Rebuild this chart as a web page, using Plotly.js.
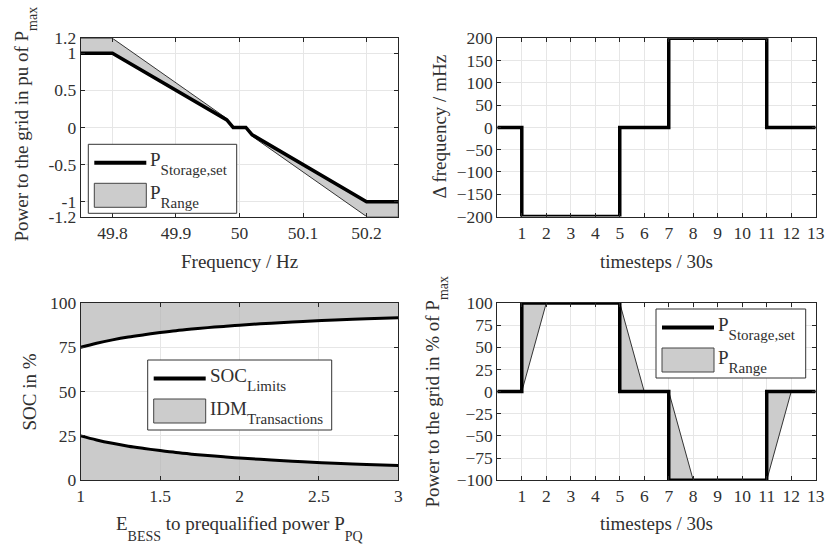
<!DOCTYPE html>
<html>
<head>
<meta charset="utf-8">
<script src="https://cdn.plot.ly/plotly-3.0.1.min.js"></script>
<style>
  html, body { margin: 0; padding: 0; background: #fff; }
  #chart { width: 825px; height: 548px; }
</style>
</head>
<body>
<div id="chart"></div>
<script>
// ---- Droop characteristic: power set point vs. grid frequency ----
const freqHz        = [49.75, 49.8, 49.98, 49.99, 50.01, 50.02, 50.2, 50.25];
const droopSet      = [1, 1, 0.1, 0, 0, -0.1, -1, -1];
const droopRangeEdge = [1.2, 1.2, 0.12, 0, 0, -0.12, -1.2, -1.2];
const freqTicks     = [49.8, 49.9, 50, 50.1, 50.2];
const freqTickText  = ['49.8', '49.9', '50', '50.1', '50.2'];
const puTicks       = [-1.2, -1, -0.5, 0, 0.5, 1, 1.2];
const puTickText    = ['-1.2', '-1', '-0.5', '0', '0.5', '1', '1.2'];

// ---- Frequency deviation test profile ----
const stepTime  = [0, 1, 1, 5, 5, 7, 7, 11, 11, 13];
const deltaFreq = [0, 0, -200, -200, 0, 0, 200, 200, 0, 0];
const timeTicks = [1, 2, 3, 4, 5, 6, 7, 8, 9, 10, 11, 12, 13];
const mHzTicks  = [-200, -150, -100, -50, 0, 50, 100, 150, 200];

// ---- SOC operating limits vs. energy / prequalified power ----
const eRatio   = [1, 1.1, 1.2, 1.3, 1.4, 1.5, 1.6, 1.7, 1.8, 1.9, 2, 2.2, 2.4, 2.6, 2.8, 3];
const socUpper = [75, 77.3, 79.2, 80.8, 82.1, 83.3, 84.4, 85.3, 86.1, 86.8, 87.5, 88.6, 89.6, 90.4, 91.1, 91.7];
const socLower = [25, 22.7, 20.8, 19.2, 17.9, 16.7, 15.6, 14.7, 13.9, 13.2, 12.5, 11.4, 10.4, 9.6, 8.9, 8.3];
const socFull  = 100;
const eTicks   = [1, 1.5, 2, 2.5, 3];
const eTickText = ['1', '1.5', '2', '2.5', '3'];
const socTicks = [0, 25, 50, 75, 100];

// ---- Power response to the test profile ----
const powerSet  = [0, 0, 100, 100, 0, 0, -100, -100, 0, 0];
const rampTime  = [0, 1, 2, 5, 6, 7, 8, 11, 12, 13];
const powerRamp = [0, 0, 100, 100, 0, 0, -100, -100, 0, 0];
const pctTicks  = [-100, -75, -50, -25, 0, 25, 50, 75, 100];

// ---------------------------------------------------------------
const W = 825, H = 548;
const FONT = 'Liberation Serif, Times New Roman, serif';
const INK = '#303030';
const FILL = '#cccccc';
const px = v => v / W;          // pixel -> paper x
const py = v => 1 - v / H;      // pixel -> paper y

const rev = a => a.slice().reverse();
const sub = (t, size, shift) =>
  `<span style="font-size:${size}px;baseline-shift:-${shift}px">${t}</span>`;

const traces = [
  // droop: admissible range band, then set point
  { x: freqHz.concat(rev(freqHz)), y: droopRangeEdge.concat(rev(droopSet)),
    type: 'scatter', mode: 'lines', fill: 'toself', fillcolor: FILL,
    line: { color: '#333333', width: 1 }, xaxis: 'x', yaxis: 'y', hoverinfo: 'skip' },
  { x: freqHz, y: droopSet, type: 'scatter', mode: 'lines',
    line: { color: '#000', width: 3.5 }, xaxis: 'x', yaxis: 'y' },

  // frequency deviation profile
  { x: stepTime, y: deltaFreq, type: 'scatter', mode: 'lines',
    line: { color: '#000', width: 3.5 }, xaxis: 'x2', yaxis: 'y2' },

  // SOC: regions left for intraday transactions
  { x: eRatio.concat(rev(eRatio)), y: socUpper.concat(eRatio.map(() => socFull)),
    type: 'scatter', mode: 'lines', fill: 'toself', fillcolor: 'rgba(176,176,176,0.66)',
    line: { width: 0 }, xaxis: 'x3', yaxis: 'y3', hoverinfo: 'skip' },
  { x: eRatio, y: socLower, type: 'scatter', mode: 'lines', fill: 'tozeroy',
    fillcolor: 'rgba(176,176,176,0.66)', line: { width: 0 },
    xaxis: 'x3', yaxis: 'y3', hoverinfo: 'skip' },
  { x: eRatio, y: socUpper, type: 'scatter', mode: 'lines',
    line: { color: '#000', width: 3, shape: 'spline' }, xaxis: 'x3', yaxis: 'y3' },
  { x: eRatio, y: socLower, type: 'scatter', mode: 'lines',
    line: { color: '#000', width: 3, shape: 'spline' }, xaxis: 'x3', yaxis: 'y3' },

  // power response: ramp band, then step set point
  { x: rampTime.concat(rev(stepTime)), y: powerRamp.concat(rev(powerSet)),
    type: 'scatter', mode: 'lines', fill: 'toself', fillcolor: FILL,
    line: { color: '#333333', width: 1 }, xaxis: 'x4', yaxis: 'y4', hoverinfo: 'skip' },
  { x: stepTime, y: powerSet, type: 'scatter', mode: 'lines',
    line: { color: '#000', width: 3.5 }, xaxis: 'x4', yaxis: 'y4' }
];

const axBase = {
  showline: true, mirror: 'allticks', linecolor: '#262626', linewidth: 1,
  ticks: 'inside', ticklen: 4, tickwidth: 1, tickcolor: '#262626',
  showgrid: true, gridcolor: '#e6e6e6', gridwidth: 1, zeroline: false,
  tickfont: { family: FONT, size: 17.5, color: INK }, fixedrange: true
};
const ax = o => Object.assign({}, axBase, o);

const colL = [px(80.7), px(398.3)];
const colR = [px(497.3), px(815.7)];
const rowT = [py(216.5), py(38.3)];
const rowB = [py(480.2), py(303)];

const layout = {
  width: W, height: H, margin: { l: 0, r: 0, t: 0, b: 0 },
  paper_bgcolor: '#fff', plot_bgcolor: '#fff', showlegend: false,
  font: { family: FONT, color: INK },
  xaxis:  ax({ domain: colL, range: [49.75, 50.25], tickmode: 'array', tickvals: freqTicks, ticktext: freqTickText, anchor: 'y' }),
  yaxis:  ax({ domain: rowT, range: [-1.2, 1.2], tickmode: 'array', tickvals: puTicks, ticktext: puTickText, anchor: 'x' }),
  xaxis2: ax({ domain: colR, range: [0, 13], tickmode: 'array', tickvals: timeTicks, anchor: 'y2' }),
  yaxis2: ax({ domain: rowT, range: [-200, 200], tickmode: 'array', tickvals: mHzTicks, anchor: 'x2' }),
  xaxis3: ax({ domain: colL, range: [1, 3], tickmode: 'array', tickvals: eTicks, ticktext: eTickText, anchor: 'y3' }),
  yaxis3: ax({ domain: rowB, range: [0, 100], tickmode: 'array', tickvals: socTicks, anchor: 'x3' }),
  xaxis4: ax({ domain: colR, range: [0, 13], tickmode: 'array', tickvals: timeTicks, anchor: 'y4' }),
  yaxis4: ax({ domain: rowB, range: [-100, 100], tickmode: 'array', tickvals: pctTicks, anchor: 'x4' }),
  shapes: [],
  annotations: []
};

const titleFont = { family: FONT, size: 19, color: INK };
function note(text, x, y, opts) {
  layout.annotations.push(Object.assign({
    text, x: px(x), y: py(y), xref: 'paper', yref: 'paper', showarrow: false,
    xanchor: 'center', yanchor: 'middle', font: titleFont
  }, opts || {}));
}

// axis titles
note('Frequency / Hz', 239.5, 261);
note('timesteps / 30s', 656.5, 261);
note('E' + sub('BESS', 14, 11) + ' to prequalified power P' + sub('PQ', 14, 11), 239.5, 511, { yanchor: 'top' });
note('timesteps / 30s', 656.5, 523);
note('Power to the grid in pu of P' + sub('max', 14, 9), 8, 124, { textangle: -90, xanchor: 'left' });
note('\u0394 frequency / mHz', 427, 127, { textangle: -90, xanchor: 'left' });
note('SOC in %', 16, 392, { textangle: -90, xanchor: 'left' });
note('Power to the grid in % of P' + sub('max', 14, 9), 419, 392, { textangle: -90, xanchor: 'left' });

// legend blocks: a line sample and a patch sample, each with a label
function legendBlock(left, top, width, height, lineLabel, patchLabel) {
  const S = layout.shapes;
  S.push({ type: 'rect', xref: 'paper', yref: 'paper', layer: 'above',
    x0: px(left), x1: px(left + width), y0: py(top), y1: py(top + height),
    fillcolor: '#fff', line: { color: '#333333', width: 1 } });
  S.push({ type: 'line', xref: 'paper', yref: 'paper', layer: 'above',
    x0: px(left + 6), x1: px(left + 58), y0: py(top + 18.5), y1: py(top + 18.5),
    line: { color: '#000', width: 4 } });
  S.push({ type: 'rect', xref: 'paper', yref: 'paper', layer: 'above',
    x0: px(left + 6), x1: px(left + 58), y0: py(top + 39), y1: py(top + 63),
    fillcolor: FILL, line: { color: '#444444', width: 1 } });
  note(lineLabel, left + 60, top + 3, { xanchor: 'left', yanchor: 'top' });
  note(patchLabel, left + 60, top + 36, { xanchor: 'left', yanchor: 'top' });
}
const LS = 15, LD = 9;   // legend subscript size and drop
legendBlock(88.3, 144.3, 148.4, 69, 'P' + sub('Storage,set', LS, LD), 'P' + sub('Range', LS, LD));
legendBlock(147.7, 360, 184, 70, 'SOC' + sub('Limits', LS, LD), 'IDM' + sub('Transactions', LS, LD));
legendBlock(656, 309, 149.7, 69, 'P' + sub('Storage,set', LS, LD), 'P' + sub('Range', LS, LD));

Plotly.newPlot('chart', traces, layout, { staticPlot: true, displayModeBar: false });
</script>
</body>
</html>
